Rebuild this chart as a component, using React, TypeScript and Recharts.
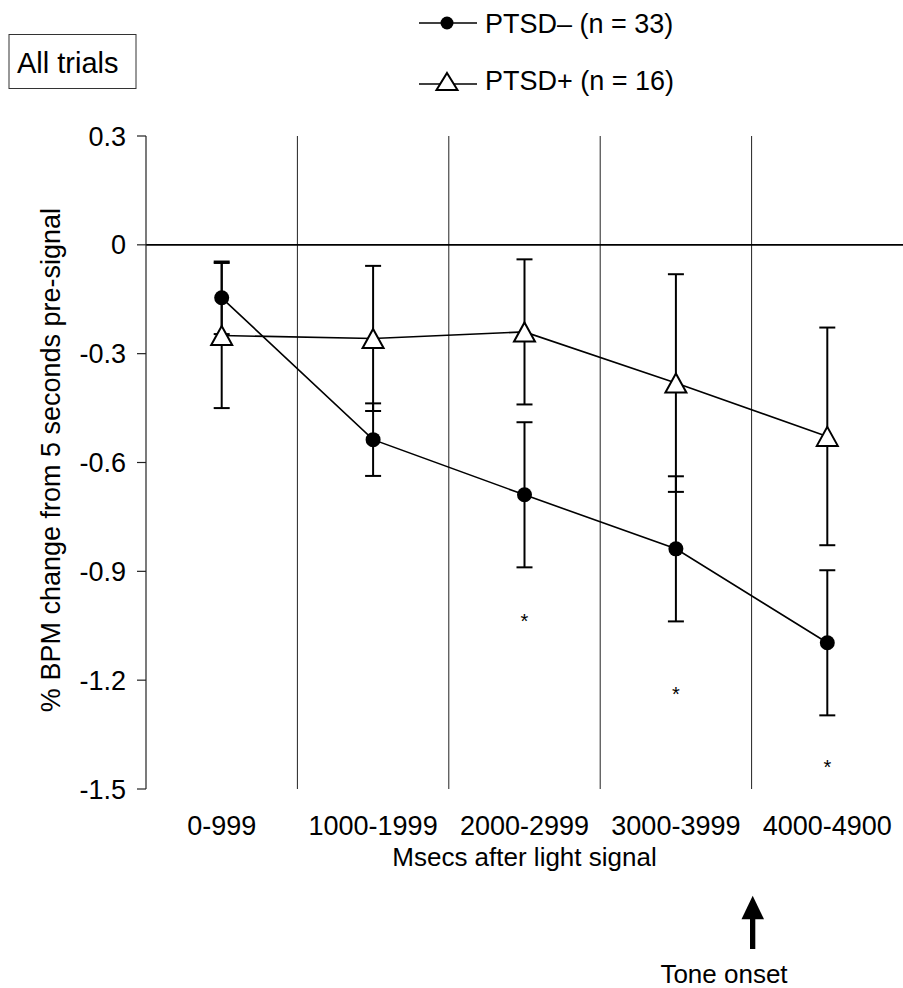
import { LineChart, Line, XAxis, YAxis, ReferenceLine, ErrorBar, Label } from 'recharts';

// interval labels (msecs after the light signal)
const categories = ['0-999', '1000-1999', '2000-2999', '3000-3999', '4000-4900'];

// PTSD- group (filled circles) and its error bars
const ptsdNeg = [-0.146, -0.537, -0.689, -0.838, -1.097];
const ptsdNegErr = [0.1, 0.1, 0.2, 0.2, 0.2];

// PTSD+ group (open triangles) and its error bars
const ptsdPos = [-0.25, -0.258, -0.24, -0.381, -0.528];
const ptsdPosErr = [0.2, 0.2, 0.2, 0.3, 0.3];

// where the significance asterisks sit
const sigMarks = [null, null, -1.025, -1.226, -1.427];

const yTicks = [0.3, 0, -0.3, -0.6, -0.9, -1.2, -1.5];

const FONT = "'Liberation Sans', Arial, sans-serif";

const data = categories.map((cat, i) => ({
  cat,
  neg: ptsdNeg[i],
  negErr: ptsdNegErr[i],
  pos: ptsdPos[i],
  posErr: ptsdPosErr[i],
  sig: sigMarks[i],
}));

const CircleDot = (p: any) => {
  if (p.cx == null || p.cy == null) return <g key={`c${p.index}`} />;
  return <circle key={`c${p.index}`} cx={p.cx} cy={p.cy} r={7.5} fill="#000" />;
};

const TriangleDot = (p: any) => {
  if (p.cx == null || p.cy == null) return <g key={`t${p.index}`} />;
  const { cx, cy } = p;
  return (
    <path
      key={`t${p.index}`}
      d={`M${cx},${cy - 9.5} L${cx + 10.5},${cy + 9.5} L${cx - 10.5},${cy + 9.5} Z`}
      fill="#fff"
      stroke="#000"
      strokeWidth={2}
    />
  );
};

const StarDot = (p: any) => {
  if (p.cx == null || p.cy == null || p.value == null) return <g key={`s${p.index}`} />;
  return (
    <text
      key={`s${p.index}`}
      x={p.cx}
      y={p.cy + 11.5}
      textAnchor="middle"
      fontSize={20}
      fontFamily={FONT}
      fill="#000"
    >
      *
    </text>
  );
};

const XTick = (p: any) => (
  <text
    x={p.x}
    y={p.y + 46}
    textAnchor="middle"
    fontSize={27}
    fontFamily={FONT}
    fill="#000"
  >
    {p.payload.value}
  </text>
);

export default function App() {
  return (
    <div style={{ position: 'absolute', left: 0, top: 0, width: 903, height: 988, background: '#fff' }}>
      <LineChart
        width={903}
        height={988}
        data={data}
        margin={{ top: 136, right: 0, bottom: 0, left: 0 }}
      >
        <XAxis
          dataKey="cat"
          scale="band"
          height={199}
          axisLine={false}
          tickLine={false}
          tickSize={0}
          tickMargin={0}
          interval={0}
          tick={<XTick />}
        >
          <Label
            content={({ viewBox }: any) => (
              <text
                x={viewBox.x + viewBox.width / 2}
                y={viewBox.y + 77}
                textAnchor="middle"
                fontSize={26}
                fontFamily={FONT}
                fill="#000"
              >
                Msecs after light signal
              </text>
            )}
          />
        </XAxis>
        <YAxis
          type="number"
          domain={[-1.5, 0.3]}
          ticks={yTicks}
          interval={0}
          width={146}
          tickSize={9}
          tickMargin={11}
          axisLine={{ stroke: '#222', strokeWidth: 1.2 }}
          tickLine={{ stroke: '#222', strokeWidth: 1.2 }}
          tick={{ fontSize: 27, fontFamily: FONT, fill: '#000' }}
          tickFormatter={(v: number) => String(v)}
        >
          <Label
            content={({ viewBox }: any) => {
              const cx = viewBox.x + 60;
              const cy = 460;
              return (
                <text
                  x={cx}
                  y={cy}
                  transform={`rotate(-90 ${cx} ${cy})`}
                  textAnchor="middle"
                  fontSize={27}
                  fontFamily={FONT}
                  fill="#000"
                >
                  % BPM change from 5 seconds pre-signal
                </text>
              );
            }}
          />
        </YAxis>

        {categories.slice(1).map((c) => (
          <ReferenceLine key={c} x={c} position="start" stroke="#222" strokeWidth={1} />
        ))}
        <ReferenceLine y={0} stroke="#000" strokeWidth={1.6} />

        <Line
          dataKey="neg"
          stroke="#000"
          strokeWidth={1.6}
          dot={CircleDot}
          activeDot={false}
          isAnimationActive={false}
        >
          <ErrorBar dataKey="negErr" width={8} stroke="#000" strokeWidth={2} direction="y" />
        </Line>
        <Line
          dataKey="pos"
          stroke="#000"
          strokeWidth={1.6}
          dot={TriangleDot}
          activeDot={false}
          isAnimationActive={false}
        >
          <ErrorBar dataKey="posErr" width={8} stroke="#000" strokeWidth={2} direction="y" />
        </Line>
        <Line
          dataKey="sig"
          stroke="none"
          dot={StarDot}
          activeDot={false}
          isAnimationActive={false}
        />
      </LineChart>

      <svg
        width={903}
        height={988}
        style={{ position: 'absolute', left: 0, top: 0, pointerEvents: 'none' }}
        fontFamily={FONT}
      >
        {/* panel label */}
        <rect x={9} y={34.5} width={127} height={54} fill="#fff" stroke="#333" strokeWidth={1} />
        <text x={17} y={72.5} fontSize={29} fill="#000">All trials</text>

        {/* legend */}
        <line x1={419} y1={23} x2={477} y2={23} stroke="#000" strokeWidth={1.6} />
        <circle cx={447} cy={23} r={6.5} fill="#000" />
        <text x={485} y={33} fontSize={27} fill="#000">PTSD– (n = 33)</text>
        <line x1={419} y1={84} x2={477} y2={84} stroke="#000" strokeWidth={1.6} />
        <path d="M447,73 L457.5,90 L436.5,90 Z" fill="#fff" stroke="#000" strokeWidth={2} />
        <text x={485} y={90} fontSize={27} fill="#000">PTSD+ (n = 16)</text>

        {/* tone onset marker */}
        <path d="M752.7,895.7 L764,919.3 L741.5,919.3 Z" fill="#000" />
        <rect x={750} y={918} width={5.3} height={31} fill="#000" />
        <text x={724} y={983} textAnchor="middle" fontSize={26} fill="#000">Tone onset</text>
      </svg>
    </div>
  );
}
